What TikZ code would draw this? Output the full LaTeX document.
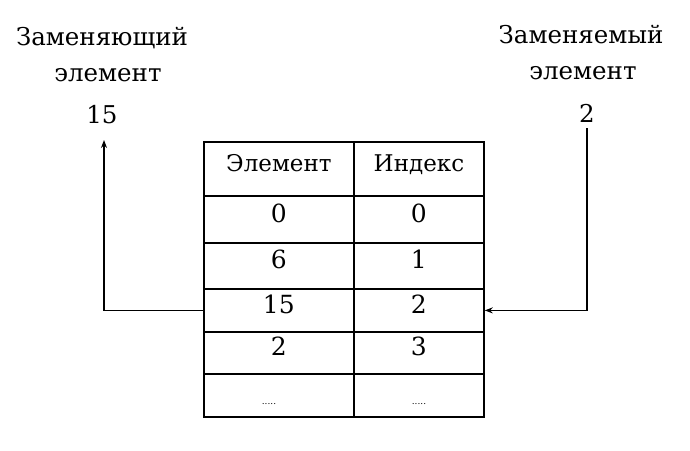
\documentclass[tikz,border=0pt]{standalone}
\usepackage{fontspec}
\setmainfont{DejaVu Serif}
\usetikzlibrary{arrows.meta}
\begin{document}
\begin{tikzpicture}[x=1pt,y=-1pt,
  cell/.style={draw,line width=1.8pt,inner sep=0pt,anchor=north west,text height=0.73em,text depth=0.12em,font=\fontsize{25}{25}\selectfont},
  lbl/.style={inner sep=0pt,font=\fontsize{24.5}{24.5}\selectfont},
  dots/.style={inner sep=0pt,font=\fontsize{9}{9}\selectfont},
  conn/.style={line width=1.3pt,-{Stealth[length=8pt,width=6pt]}}]
\useasboundingbox[fill=white] (0,0) rectangle (690,450);
% table
\node[cell,minimum width=150pt,minimum height=54pt,font=\fontsize{23}{23}\selectfont] (h1) at (203,141) {Элемент};
\node[cell,minimum width=130pt,minimum height=54pt,font=\fontsize{23}{23}\selectfont] (h2) at (353,141) {Индекс};
\node[cell,minimum width=150pt,minimum height=47pt] (a1) at (203,195) {0};
\node[cell,minimum width=130pt,minimum height=47pt] (a2) at (353,195) {0};
\node[cell,minimum width=150pt,minimum height=46pt] (b1) at (203,242) {6};
\node[cell,minimum width=130pt,minimum height=46pt] (b2) at (353,242) {1};
\node[cell,minimum width=150pt,minimum height=43pt] (c1) at (203,288) {15};
\node[cell,minimum width=130pt,minimum height=43pt] (c2) at (353,288) {2};
\node[cell,minimum width=150pt,minimum height=42pt] (d1) at (203,331) {2};
\node[cell,minimum width=130pt,minimum height=42pt] (d2) at (353,331) {3};
\node[cell,minimum width=150pt,minimum height=43pt] (e1) at (203,373) {};
\node[cell,minimum width=130pt,minimum height=43pt] (e2) at (353,373) {};
\node[dots] (e1t) at (269,404) {.....};
\node[dots] (e2t) at (419,404) {.....};
% labels
\node[lbl] (l1) at (102,38) {Заменяющий};
\node[lbl] (l2) at (108,75) {элемент};
\node[lbl] (l3) at (102,115) {15};
\node[lbl] (r1) at (581,35) {Заменяемый};
\node[lbl] (r2) at (583,73) {элемент};
\node[lbl] (r3) at (587,113) {2};
\coordinate (lt) at (104,140);
\coordinate (rt) at (587,128);
% connectors
\draw[conn] (c1.west) -| (lt);
\draw[conn] (rt) |- (c2.east);
\end{tikzpicture}
\end{document}
